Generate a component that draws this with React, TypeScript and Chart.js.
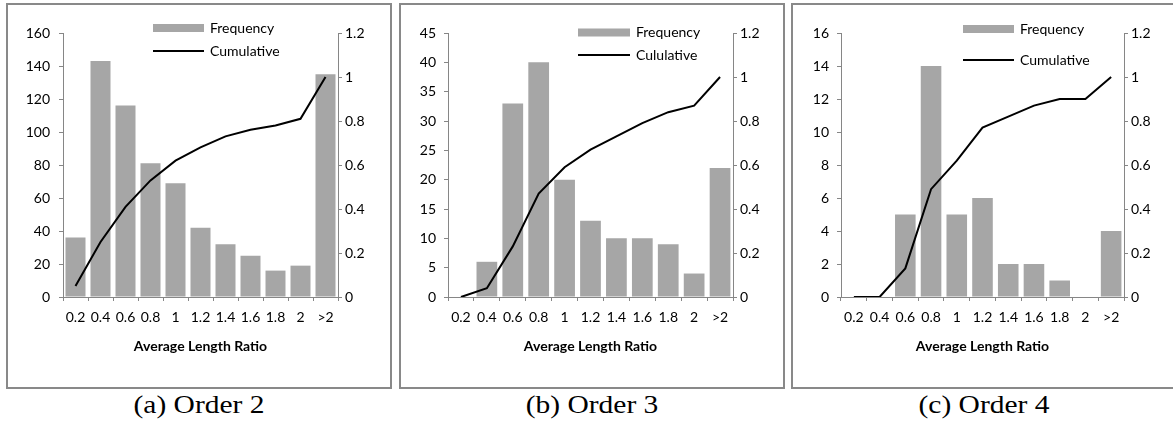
import React, { useEffect, useRef } from 'react';
import { Chart, registerables } from 'chart.js';

Chart.register(...registerables);

// ---------- data ----------
const categories = ['0.2', '0.4', '0.6', '0.8', '1', '1.2', '1.4', '1.6', '1.8', '2', '>2'];

const freqOrder2 = [36, 143, 116, 81, 69, 42, 32, 25, 16, 19, 135];
const cumOrder2 = [0.05, 0.25, 0.41, 0.53, 0.62, 0.68, 0.73, 0.76, 0.78, 0.81, 1];

const freqOrder3 = [0, 6, 33, 40, 20, 13, 10, 10, 9, 4, 22];
const cumOrder3 = [0, 0.04, 0.23, 0.47, 0.59, 0.67, 0.73, 0.79, 0.84, 0.87, 1];

const freqOrder4 = [0, 0, 5, 14, 5, 6, 2, 2, 1, 0, 4];
const cumOrder4 = [0, 0, 0.13, 0.49, 0.62, 0.77, 0.82, 0.87, 0.9, 0.9, 1];

const leftMax = [160, 45, 16];
const leftStep = [20, 5, 2];
const rightMax = 1.2;
const rightStep = 0.2;

const freqLabel = 'Frequency';
const cumLabels = ['Cumulative', 'Cululative', 'Cumulative'];
const captions = ['(a) Order 2', '(b) Order 3', '(c) Order 4'];
const xTitle = 'Average Length Ratio';

// ---------- styling / layout ----------
const FONT = 'Lato, "Open Sans", "DejaVu Sans", sans-serif';
const AXIS_COLOR = '#868686';
const BAR_COLOR = '#a6a6a6';
const CANVAS_SIZE = 382;

type PanelLayout = {
  left: number;
  boxW: number;
  yWidth: number;
  y1Width: number;
  yPad: number;
  legendX: number;
  legendW: number;
  rowY: [number, number];
};

const layouts: PanelLayout[] = [
  { left: 6, boxW: 382, yWidth: 55, y1Width: 52, yPad: 9, legendX: 145, legendW: 51, rowY: [23, 46] },
  { left: 399, boxW: 382, yWidth: 47, y1Width: 50, yPad: 8, legendX: 177, legendW: 52, rowY: [27.5, 50] },
  { left: 791, boxW: 392, yWidth: 48, y1Width: 51, yPad: 8, legendX: 170, legendW: 51, rowY: [24, 55] },
];

const legendPlugin = {
  id: 'customLegend',
  afterDraw(chart: any, _args: any, opts: any) {
    const ctx = chart.ctx as CanvasRenderingContext2D;
    const ds = chart.data.datasets;
    const bar = ds.find((d: any) => d.type === 'bar');
    const line = ds.find((d: any) => d.type === 'line');
    const { x, w, rowY } = opts;
    ctx.save();
    ctx.fillStyle = bar.backgroundColor;
    ctx.fillRect(x, rowY[0] - 4, w, 8);
    ctx.strokeStyle = line.borderColor;
    ctx.lineWidth = 2;
    ctx.beginPath();
    ctx.moveTo(x, rowY[1]);
    ctx.lineTo(x + w, rowY[1]);
    ctx.stroke();
    ctx.fillStyle = '#000';
    ctx.font = `14px ${FONT}`;
    ctx.textAlign = 'left';
    ctx.textBaseline = 'middle';
    ctx.fillText(bar.label, x + w + 6, rowY[0]);
    ctx.fillText(line.label, x + w + 6, rowY[1]);
    ctx.restore();
  },
};

function fmt(v: number) {
  return String(Math.round(v * 10) / 10);
}

function Panel({ idx, freq, cum }: { idx: number; freq: number[]; cum: number[] }) {
  const ref = useRef<HTMLCanvasElement | null>(null);
  const lay = layouts[idx];
  useEffect(() => {
    if (!ref.current) return;
    const tickFont = { family: FONT, size: 14 };
    const gridCommon = {
      display: true,
      drawOnChartArea: false,
      drawTicks: true,
      tickLength: 4,
      color: AXIS_COLOR,
      lineWidth: 1,
    };
    const chart = new Chart(ref.current, {
      type: 'bar',
      data: {
        labels: categories,
        datasets: [
          {
            type: 'line',
            label: cumLabels[idx],
            data: cum,
            yAxisID: 'y1',
            borderColor: '#000000',
            borderWidth: 2,
            pointRadius: 0,
            tension: 0,
            fill: false,
            order: 0,
          } as any,
          {
            type: 'bar',
            label: freqLabel,
            data: freq,
            yAxisID: 'y',
            backgroundColor: BAR_COLOR,
            barPercentage: 0.8,
            categoryPercentage: 1,
            order: 1,
          } as any,
        ],
      },
      options: {
        animation: false,
        responsive: false,
        maintainAspectRatio: false,
        devicePixelRatio: 1,
        layout: { padding: { top: 28, left: 0, right: 0, bottom: 0 } },
        plugins: {
          legend: { display: false },
          tooltip: { enabled: false },
          customLegend: { x: lay.legendX, w: lay.legendW, rowY: lay.rowY },
        } as any,
        scales: {
          x: {
            offset: true,
            grid: { ...gridCommon, offset: true },
            border: { display: true, color: AXIS_COLOR, width: 1 },
            ticks: { font: tickFont, color: '#000', padding: 8, maxRotation: 0, autoSkip: false },
            title: {
              display: true,
              text: xTitle,
              color: '#000',
              font: { family: FONT, size: 14, weight: 'bold' },
              padding: { top: 0, bottom: 32 },
            },
            afterFit(s: any) {
              s.height = CANVAS_SIZE - 28 - 264;
            },
          } as any,
          y: {
            position: 'left',
            min: 0,
            max: leftMax[idx],
            grid: gridCommon,
            border: { display: true, color: AXIS_COLOR, width: 1 },
            ticks: { stepSize: leftStep[idx], font: tickFont, color: '#000', padding: lay.yPad },
            afterFit(s: any) {
              s.width = lay.yWidth;
            },
          } as any,
          y1: {
            position: 'right',
            min: 0,
            max: rightMax,
            grid: gridCommon,
            border: { display: true, color: AXIS_COLOR, width: 1 },
            ticks: {
              stepSize: rightStep,
              font: tickFont,
              color: '#000',
              padding: 3,
              callback: (v: any) => fmt(Number(v)),
            },
            afterFit(s: any) {
              s.width = lay.y1Width;
            },
          } as any,
        },
      },
      plugins: [legendPlugin as any],
    });
    return () => chart.destroy();
  }, []);

  return (
    <>
      <div
        style={{
          position: 'absolute',
          left: lay.left,
          top: 3,
          width: lay.boxW,
          height: CANVAS_SIZE,
          border: `2px solid #898989`,
        }}
      >
        <canvas
          ref={ref}
          width={CANVAS_SIZE}
          height={CANVAS_SIZE}
          style={{ display: 'block', width: CANVAS_SIZE, height: CANVAS_SIZE }}
        />
      </div>
      <div
        style={{
          position: 'absolute',
          left: lay.left + 2,
          top: 391,
          width: CANVAS_SIZE,
          textAlign: 'center',
          fontFamily: '"Liberation Serif", "Times New Roman", serif',
          fontSize: 25,
          lineHeight: '28px',
          color: '#000',
          transform: 'scaleX(1.18)',
        }}
      >
        {captions[idx]}
      </div>
    </>
  );
}

export default function App() {
  return (
    <div style={{ position: 'absolute', left: 0, top: 0, width: 1173, height: 430, overflow: 'hidden', background: '#fff' }}>
      <Panel idx={0} freq={freqOrder2} cum={cumOrder2} />
      <Panel idx={1} freq={freqOrder3} cum={cumOrder3} />
      <Panel idx={2} freq={freqOrder4} cum={cumOrder4} />
    </div>
  );
}
